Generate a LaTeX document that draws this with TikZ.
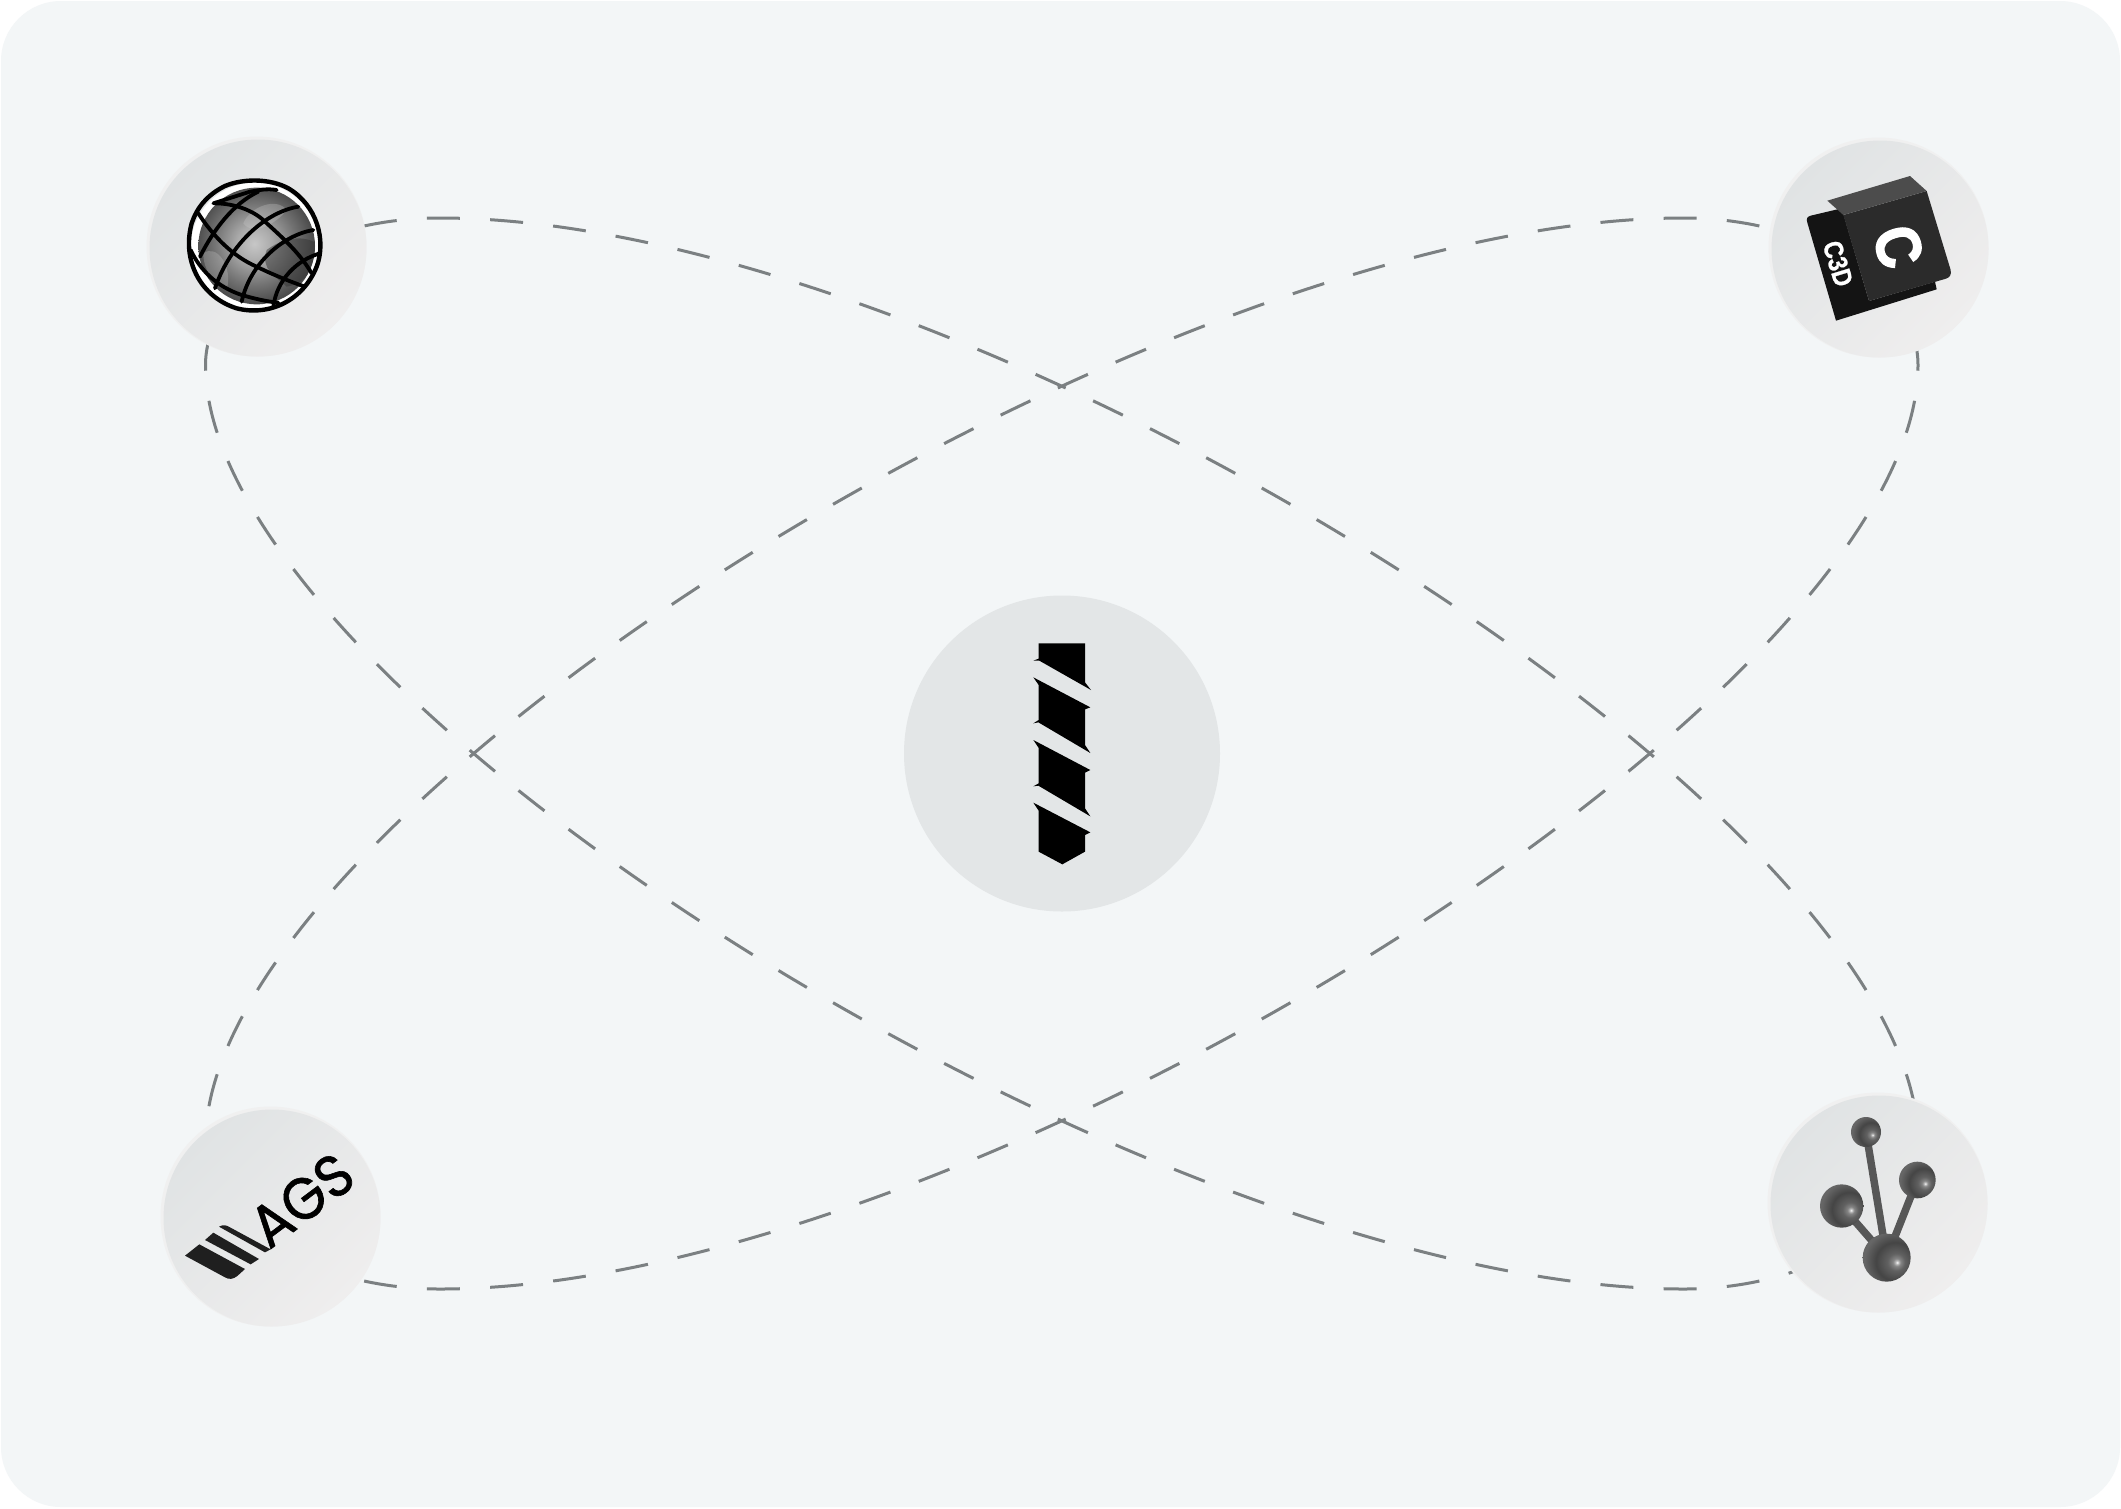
\documentclass[tikz,border=0pt]{standalone}
\usepackage{fontspec}
\setmainfont{Liberation Sans}
\newfontfamily\agsfont[FakeStretch=.93,FakeBold=1]{Poppins}
\newfontfamily\bigc[FakeStretch=.88,FakeBold=2.5]{Liberation Sans Bold}
\newfontfamily\smallc[FakeStretch=.85,FakeBold=1]{Liberation Sans Bold}
\usetikzlibrary{calc}
\definecolor{panel}{HTML}{F3F6F7}
\definecolor{dashc}{HTML}{7B8082}
\definecolor{rim}{HTML}{F0F0F0}
\definecolor{hubc}{HTML}{E3E6E7}
\definecolor{gradA}{HTML}{E0E3E4}
\definecolor{gradB}{HTML}{EFEEEE}
\pgfdeclareradialshading{ballbr}{\pgfpoint{11bp}{-5bp}}{
 color(0bp)=(white);color(1.5bp)=(black!25);color(4bp)=(black!48);color(9bp)=(black!62);color(20bp)=(black!73);color(31bp)=(black!60);color(100bp)=(black!55)}
\pgfdeclareradialshading{sphere}{\pgfpoint{-1bp}{1bp}}{
 color(0bp)=(black!22);color(7.5bp)=(black!33);color(17.5bp)=(black!55);color(25bp)=(black!70);color(100bp)=(black!70)}
\tikzset{
 hubdisk/.style={circle,inner sep=0pt,minimum size=316pt,fill=hubc},
 badge/.style={circle,inner sep=0pt,minimum size=220pt,fill=rim},
 badgein/.style={left color=gradA,right color=gradB,shading angle=45},
 orbit/.style={draw=dashc,line width=3pt,dash pattern=on 33pt off 30.3pt,dash phase=29.4pt},
 grid/.style={line width=3.8pt,line cap=round,black},
 rod/.style={line width=7.5pt,draw=black!66},
 ball/.style={shading=ballbr},
}
\begin{document}
\begin{tikzpicture}[x=1pt,y=-1pt]
\useasboundingbox (0,0) rectangle (2121,1508);
\fill[white] (0,0) rectangle (2121,1508);
\fill[panel,rounded corners=60pt] (1,1) rectangle (2120,1507);
% orbits
\coordinate (a0) at (440,218);
\coordinate (a3) at (1918,1142);
\coordinate (a6) at (1683.5,1289);
\coordinate (a9) at (205.5,365);
\coordinate (am) at (274.2,261.5);
\coordinate (an) at (1849.3,1245.5);
\coordinate (b0) at (1683.5,218);
\coordinate (b3) at (205.5,1142);
\coordinate (b6) at (440,1289);
\coordinate (b9) at (1918,365);
\coordinate (bm) at (1849.3,261.5);
\coordinate (bn) at (274.2,1245.5);
\draw[orbit] (am) .. controls (316.6,234.75) and (375.25,218) .. (a0)
  .. controls (965,218) and (1918,810) .. (a3)
  .. controls (1918,1182) and (1891.75,1218.75) .. (an);
\draw[orbit] (an) .. controls (1806.9,1272.25) and (1748.25,1289) .. (a6)
  .. controls (1158.5,1289) and (205.5,697) .. (a9)
  .. controls (205.5,325) and (231.75,288.25) .. (am);
\draw[orbit] (bm) .. controls (1806.9,234.75) and (1748.25,218) .. (b0)
  .. controls (1158.5,218) and (205.5,810) .. (b3)
  .. controls (205.5,1182) and (231.75,1218.75) .. (bn);
\draw[orbit] (bn) .. controls (316.6,1272.25) and (375.25,1289) .. (b6)
  .. controls (965,1289) and (1918,697) .. (b9)
  .. controls (1918,325) and (1891.75,288.25) .. (bm);
% hub
\node[hubdisk] (hub) at (1062,753.5) {};
\begin{scope}[shift={(980,620)},scale=1/3]
\fill[black] (176,70)--(315,70)--(315,187)--(333,210)--(178,122)--(160,122)--(176,116)--cycle;
\fill[black] (160,172)--(331,262)--(315,268)--(315,375)--(331,399)--(175,307)--(160,310)--(176,300)--(176,195)--cycle;
\fill[black] (160,360)--(331,450)--(315,458)--(315,565)--(331,589)--(175,497)--(160,499)--(176,490)--(176,384)--cycle;
\fill[black] (160,548)--(331,637)--(315,645)--(315,695)--(247,733)--(176,695)--(176,572)--cycle;
\end{scope}
% badges
\node[badge] (tl) at (256.5,246.5) {};
\shade[badgein] ($(tl)+(1.5,1.5)$) circle (108.5pt);
\node[badge] (tr) at (1878.5,247.5) {};
\shade[badgein] ($(tr)+(1.5,1.5)$) circle (108.5pt);
\node[badge] (bl) at (270.5,1216.5) {};
\shade[badgein] ($(bl)+(1.5,1.5)$) circle (108.5pt);
\node[badge] (br) at (1877.5,1202.5) {};
\shade[badgein] ($(br)+(1.5,1.5)$) circle (108.5pt);
% globe
\begin{scope}[shift={(120,110)},scale=1/3]
\fill[white] (405,410) circle (192);
\shade[shading=sphere] (410,408) circle (175);
\begin{scope}
\clip (410,408) circle (175);
\fill[black!80,opacity=.5] (440,420) .. controls (480,390) and (540,370) .. (590,400) .. controls (590,470) and (560,520) .. (500,530) .. controls (470,500) and (420,480) .. cycle;
\fill[black!20,opacity=.3] (370,340) .. controls (390,290) and (470,260) .. (500,300) .. controls (470,340) and (400,380) .. cycle;
\fill[black!15,opacity=.25] (250,430) .. controls (290,400) and (340,470) .. (320,540) .. controls (280,520) and (250,480) .. cycle;
\end{scope}
\draw[line width=4.4pt,black] (315,228) .. controls (370,205) and (450,205) .. (505,235)
  .. controls (590,285) and (620,390) .. (590,470)
  .. controls (550,570) and (450,620) .. (350,595)
  .. controls (240,560) and (185,450) .. (215,340)
  .. controls (230,295) and (260,255) .. (315,228);
\draw[grid] (285,280) .. controls (340,280) and (400,300) .. (435,335) .. controls (490,385) and (540,430) .. (575,490);
\draw[grid] (235,310) .. controls (280,380) and (340,440) .. (410,470) .. controls (450,490) and (510,515) .. (555,530);
\draw[grid] (415,245) .. controls (340,280) and (280,360) .. (240,440);
\draw[grid] (535,290) .. controls (440,305) and (330,400) .. (285,535);
\draw[grid] (580,360) .. controls (490,375) and (390,460) .. (365,575);
\draw[grid] (600,430) .. controls (530,450) and (470,510) .. (460,590);
\draw[grid] (212,420) .. controls (240,480) and (290,530) .. (365,555) .. controls (400,565) and (440,575) .. (475,578);
\draw[grid] (280,280) -- (390,245) .. controls (420,240) and (440,235) .. (470,240);
\end{scope}
% C3D
\begin{scope}[shift={(1750,110)},scale=1/3]
\fill[black!92] (172,338) .. controls (168,325) and (172,320) .. (182,317) -- (275,295) -- (357,573) -- (555,515) -- (560,538) -- (258,632) -- cycle;
\fill[black!83] (280,315) -- (530,243) -- (602,480) .. controls (605,495) and (598,503) .. (588,506) -- (357,573) -- cycle;
\fill[black!70] (232,272) -- (480,198) -- (530,243) -- (280,315) -- cycle;
\node[rotate=-73,white,font=\smallc\fontsize{27}{27}\selectfont,inner sep=0pt] (c3d) at (264,461) {C3D};
\node[rotate=-73,white,font=\bigc\fontsize{63}{63}\selectfont,inner sep=0pt] (cbig) at (445,410) {C};
\end{scope}
% AGS
\begin{scope}[shift={(140,1090)},scale=1/3]
\fill[black!88] (135,497) -- (178,463) -- (315,537) -- (292,558) .. controls (280,567) and (268,570) .. (255,562) -- cycle;
\fill[black!88] (195,450) -- (220,428) -- (357,507) -- (332,523) -- cycle;
\fill[black!88] (237,410) .. controls (250,403) and (258,405) .. (270,412) -- (392,478) -- (375,487) -- cycle;
\node[rotate=37,black,font=\agsfont\fontsize{59}{59}\selectfont,inner sep=0pt] (ags) at (485,330) {AGS};
\end{scope}
% molecule
\begin{scope}[shift={(1750,1080)},scale=1/3]
\coordinate (m1) at (348,156);
\coordinate (m2) at (502,300);
\coordinate (m3) at (275,378);
\coordinate (m4) at (410,533);
\draw[rod] (m1) -- (m4);
\draw[rod] (m2) -- (m4);
\draw[rod] (m3) -- (m4);
\shade[ball] (m1) circle (45);
\shade[ball] (m2) circle (55);
\shade[ball] (m3) circle (65);
\shade[ball] (m4) circle (72);
\end{scope}
\end{tikzpicture}
\end{document}
